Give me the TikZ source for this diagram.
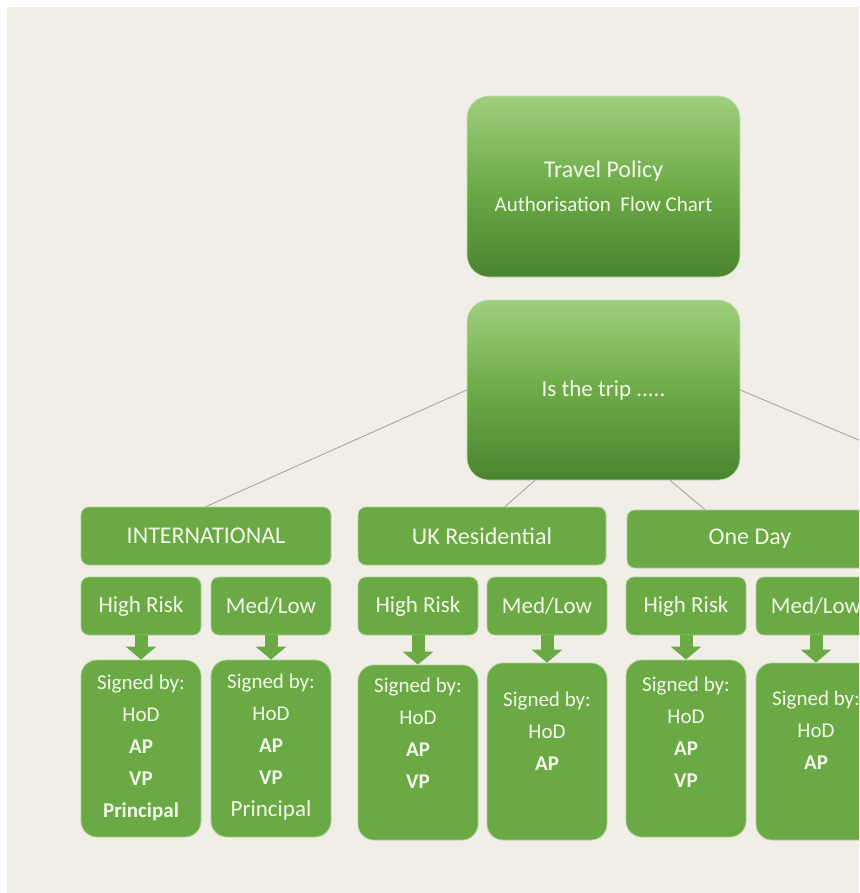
\documentclass[tikz,border=0pt]{standalone}
\usepackage{fontspec}
\setmainfont{Carlito}
\usetikzlibrary{arrows.meta}
\definecolor{bg}{HTML}{F1EEE8}
\definecolor{gr}{HTML}{6AA944}
\definecolor{grL}{HTML}{9FCF7E}
\definecolor{grD}{HTML}{4A8430}
\definecolor{txt}{HTML}{F2F8EA}
\definecolor{ln}{HTML}{A8A8A0}
\begin{document}
\begin{tikzpicture}[x=1pt,y=-1pt,
  topbox/.style={rounded corners=22pt, top color=grL, bottom color=grD, middle color=gr!95!grL,
    draw=grL!60!white, line width=0.6pt, text=txt, align=center,
    minimum width=273pt, minimum height=181pt, inner sep=0pt},
  flat/.style={fill=gr, draw=gr!55!white, line width=0.8pt, rounded corners=8pt, text=txt,
    inner sep=0pt, minimum height=58pt},
  catbox/.style={flat, font=\fontsize{24}{28}\selectfont},
  riskbox/.style={flat, minimum width=120pt, font=\fontsize{23}{27}\selectfont},
  sig/.style={fill=gr, draw=gr!55!white, line width=0.8pt, rounded corners=16pt,
    minimum width=120pt, minimum height=177pt, inner sep=0pt},
  sigtxt/.style={text=txt, align=center, anchor=north, inner sep=0pt,
    font=\fontsize{21}{32}\selectfont},
  conn/.style={draw=ln, line width=0.9pt},
  blk/.style={draw=gr, line width=13pt, -{Triangle[width=30pt,length=13pt]}}
]
\useasboundingbox (0,0) rectangle (859,893);
\clip (0,0) rectangle (859,893);
\fill[white] (0,0) rectangle (859,893);
\fill[bg] (7,7) rectangle (859,893);

% top boxes
\node[topbox] (title) at (603.5,186.5)
  {\fontsize{24}{28}\selectfont Travel Policy\\[15pt]\fontsize{21}{25}\selectfont Authorisation\ \ Flow Chart};
\node[topbox, minimum height=180pt] (trip) at (603.5,390)
  {\raisebox{-4pt}{\fontsize{23}{27}\selectfont Is the trip .....}};

% categories
\node[catbox, minimum width=250pt] (intl) at (206,536) {INTERNATIONAL};
\node[catbox, minimum width=248pt] (uk) at (482,536) {UK Residential};
\node[catbox, minimum width=246pt] (od) at (750,539) {One Day};

% risk boxes
\node[riskbox] (ihr) at (141,606) {High Risk};
\node[riskbox] (iml) at (271,606) {Med/Low};
\node[riskbox] (uhr) at (418,606) {High Risk};
\node[riskbox] (uml) at (547,606) {Med/Low};
\node[riskbox] (ohr) at (686,606) {High Risk};
\node[riskbox] (oml) at (816,606) {Med/Low};

% signed boxes
\node[sig] (sihr) at (141,748.5) {};
\node[sig] (siml) at (271,748.5) {};
\node[sig, minimum height=175pt] (suhr) at (418,752.5) {};
\node[sig] (suml) at (547,751.5) {};
\node[sig] (sohr) at (686,748.5) {};
\node[sig] (soml) at (816,751.5) {};

\node[sigtxt] (tihr) at (141,675) {Signed by:\\HoD\\\textbf{AP}\\\textbf{VP}\\\textbf{Principal}};
\node[sigtxt] (timl) at (271,674) {Signed by:\\HoD\\\textbf{AP}\\\textbf{VP}\\{\fontsize{23}{32}\selectfont Principal}};
\node[sigtxt] (tuhr) at (418,678) {Signed by:\\HoD\\\textbf{AP}\\\textbf{VP}};
\node[sigtxt] (tuml) at (547,692) {Signed by:\\HoD\\\textbf{AP}};
\node[sigtxt] (tohr) at (686,677) {Signed by:\\HoD\\\textbf{AP}\\\textbf{VP}};
\node[sigtxt] (toml) at (816,691) {Signed by:\\HoD\\\textbf{AP}};

% block arrows
\draw[blk] (ihr.south) -- (sihr.north);
\draw[blk] (iml.south) -- (siml.north);
\draw[blk] (uhr.south) -- (suhr.north);
\draw[blk] (uml.south) -- (suml.north);
\draw[blk] (ohr.south) -- (sohr.north);
\draw[blk] (oml.south) -- (soml.north);

% connectors
\coordinate (rend) at (880,449);
\coordinate (tb1) at ([xshift=-68.5pt]trip.south);
\coordinate (tb2) at ([xshift=66.5pt]trip.south);
\coordinate (ukt) at ([xshift=23pt]uk.north);
\coordinate (odt) at ([xshift=-45pt]od.north);
\draw[conn] (trip.west) -- (intl.north);
\draw[conn] (trip.east) -- (rend);
\draw[conn] (tb1) -- (ukt);
\draw[conn] (tb2) -- (odt);
\end{tikzpicture}
\end{document}
